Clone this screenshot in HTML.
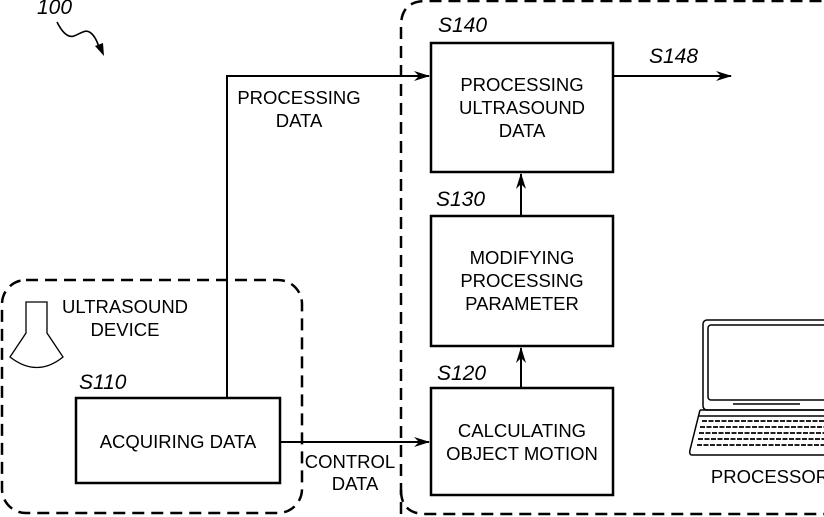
<!DOCTYPE html>
<html><head><meta charset="utf-8"><style>
html,body{margin:0;padding:0;background:#fff}
svg{display:block}
text{font-family:"Liberation Sans",sans-serif;fill:#000}
.l{font-size:18.5px;text-anchor:middle}
.s{font-size:21px;font-style:italic}
</style></head><body>
<svg width="824" height="517" viewBox="0 0 824 517" xmlns="http://www.w3.org/2000/svg">
<defs><marker id="a" markerWidth="16" markerHeight="10" refX="15" refY="5" orient="auto" markerUnits="userSpaceOnUse"><path d="M0,0 L16,5 L0,10 L5,5 Z" fill="#000"/></marker></defs>
<g fill="none" stroke="#000" stroke-width="2.5" stroke-dasharray="12,7">
<rect x="2" y="280" width="300" height="233" rx="24"/>
<path d="M401,514 L401,26 Q401,1 426,1 L830,1"/>
<path d="M401,490 Q401,514 426,514 L830,514"/>
</g>
<g fill="none" stroke="#000" stroke-width="2.5">
<rect x="431" y="43" width="182" height="129"/>
<rect x="431" y="216" width="182" height="130"/>
<rect x="431" y="388" width="182" height="107"/>
<rect x="76" y="398" width="204" height="85"/>
</g>
<g fill="none" stroke="#000" stroke-width="2">
<path d="M227,398 L227,76 L429,76" marker-end="url(#a)"/>
<path d="M280,442 L429,442" marker-end="url(#a)"/>
<path d="M521,388 L521,348" marker-end="url(#a)"/>
<path d="M521,216 L521,174" marker-end="url(#a)"/>
<path d="M613,76 L731,76" marker-end="url(#a)"/>
<path d="M57,22 C62,32 68,38 74,36 C82,33 86,28 92,34 C96,38 98,44 100,50" stroke-width="1.6"/>
<path d="M26,302 L47,302 L47,333 L63,357 Q37,378 10,357 L26,333 Z" stroke-width="1.3"/>
</g>
<path d="M95,46 L104,56 L103,43 Z" fill="#000"/>
<text class="s" x="37" y="14">100</text>
<text class="s" x="438" y="32">S140</text>
<text class="s" x="649" y="63">S148</text>
<text class="s" x="436" y="206">S130</text>
<text class="s" x="437" y="380">S120</text>
<text class="s" x="79" y="389">S110</text>
<text class="l" x="522" y="91">PROCESSING</text>
<text class="l" x="522" y="114">ULTRASOUND</text>
<text class="l" x="522" y="137">DATA</text>
<text class="l" x="522" y="264">MODIFYING</text>
<text class="l" x="522" y="287">PROCESSING</text>
<text class="l" x="522" y="310">PARAMETER</text>
<text class="l" x="522" y="437">CALCULATING</text>
<text class="l" x="522" y="460">OBJECT MOTION</text>
<text class="l" x="178" y="448">ACQUIRING  DATA</text>
<text class="l" x="299" y="104">PROCESSING</text>
<text class="l" x="299" y="127">DATA</text>
<text class="l" x="125" y="313">ULTRASOUND</text>
<text class="l" x="125" y="336">DEVICE</text>
<text class="l" x="350" y="468">CONTROL</text>
<text class="l" x="355" y="490">DATA</text>
<text class="l" x="770" y="483">PROCESSOR</text>
<g fill="none" stroke="#000" stroke-width="1.5">
<rect x="703" y="320" width="130" height="90" rx="4"/>
<rect x="708" y="325" width="120" height="75" rx="3"/>
<path d="M733,404 L800,404"/>
<path d="M700,410 L840,410 L840,455 L692,455 Q689,455 690,450 L700,410"/>
<path d="M699,416 L840,416"/>
</g>
<g stroke="#000" stroke-width="1.8" stroke-dasharray="5,1.5">
<path d="M702,421 L840,421 M700,427 L840,427 M699,433 L840,433 M698,439 L840,439 M697,445 L840,445"/>
</g>
</svg>
</body></html>
